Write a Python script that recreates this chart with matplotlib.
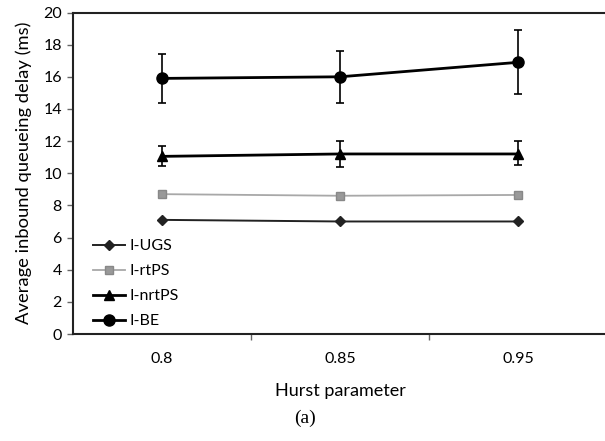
import matplotlib
matplotlib.use("Agg")
import matplotlib.pyplot as plt
import numpy as np

categories = ["0.8", "0.85", "0.95"]
ugs = [7.1, 7.0, 7.0]
rtps = [8.7, 8.6, 8.65]
nrtps = [11.05, 11.2, 11.2]
nrtps_lo = [10.45, 10.4, 10.5]
nrtps_hi = [11.7, 12.0, 12.0]
be = [15.9, 16.0, 16.9]
be_lo = [14.4, 14.4, 14.9]
be_hi = [17.4, 17.6, 18.9]
yticks = [0, 2, 4, 6, 8, 10, 12, 14, 16, 18, 20]

plt.rcParams['font.family'] = ['Lato', 'DejaVu Sans']

fig = plt.figure(figsize=(6.05, 4.41), dpi=100)
ax = fig.add_axes([73/605, 107/441, 534/605, 321.5/441])
x = np.arange(len(categories))

l1, = ax.plot(x, ugs, color='#222222', lw=1.4, marker='D', ms=5, label='I-UGS')
l2, = ax.plot(x, rtps, color='#a8a8a8', lw=1.3, marker='s', ms=6,
              markerfacecolor='#999999', markeredgecolor='#888888', label='I-rtPS')
nr_err = [np.array(nrtps) - np.array(nrtps_lo), np.array(nrtps_hi) - np.array(nrtps)]
c3 = ax.errorbar(x, nrtps, yerr=nr_err, color='black', lw=2, marker='^', ms=7.5,
                 capsize=3, elinewidth=1.2, capthick=1.2, label='I-nrtPS')
be_err = [np.array(be) - np.array(be_lo), np.array(be_hi) - np.array(be)]
c4 = ax.errorbar(x, be, yerr=be_err, color='black', lw=2, marker='o', ms=8,
                 capsize=3, elinewidth=1.2, capthick=1.2, label='I-BE')

ax.set_xlim(-0.5, 2.5)
ax.set_ylim(0, 20)
ax.set_yticks(yticks)
ax.set_xticks(x)
ax.set_xticklabels(categories)
ax.set_xticks([0.5, 1.5], minor=True)
ax.tick_params(axis='x', which='major', length=0, pad=13, labelsize=11.5)
ax.tick_params(axis='x', which='minor', length=4, direction='out', width=1, color='#666666')
ax.tick_params(axis='y', length=4, direction='out', pad=4, labelsize=11.5, width=1, color='#666666')

for s in ['left', 'top', 'bottom']:
    ax.spines[s].set_linewidth(1.5)
    ax.spines[s].set_color('#222222')
ax.spines['right'].set_visible(False)

ax.set_ylabel('Average inbound queueing delay (ms)', fontsize=13.2, labelpad=8)
ax.set_xlabel('Hurst parameter', fontsize=13, labelpad=12)

leg = ax.legend([l1, l2, c3[0], c4[0]], ['I-UGS', 'I-rtPS', 'I-nrtPS', 'I-BE'],
                loc='upper left', bbox_to_anchor=(0.01, 0.34), frameon=False,
                fontsize=11.5, handlelength=2.0, labelspacing=0.68, handletextpad=0.3)

fig.text(305/605, 1 - 418/441, '(a)', family='Liberation Serif', fontsize=14,
         ha='center', va='center')

fig.savefig('out.png', dpi=100)
